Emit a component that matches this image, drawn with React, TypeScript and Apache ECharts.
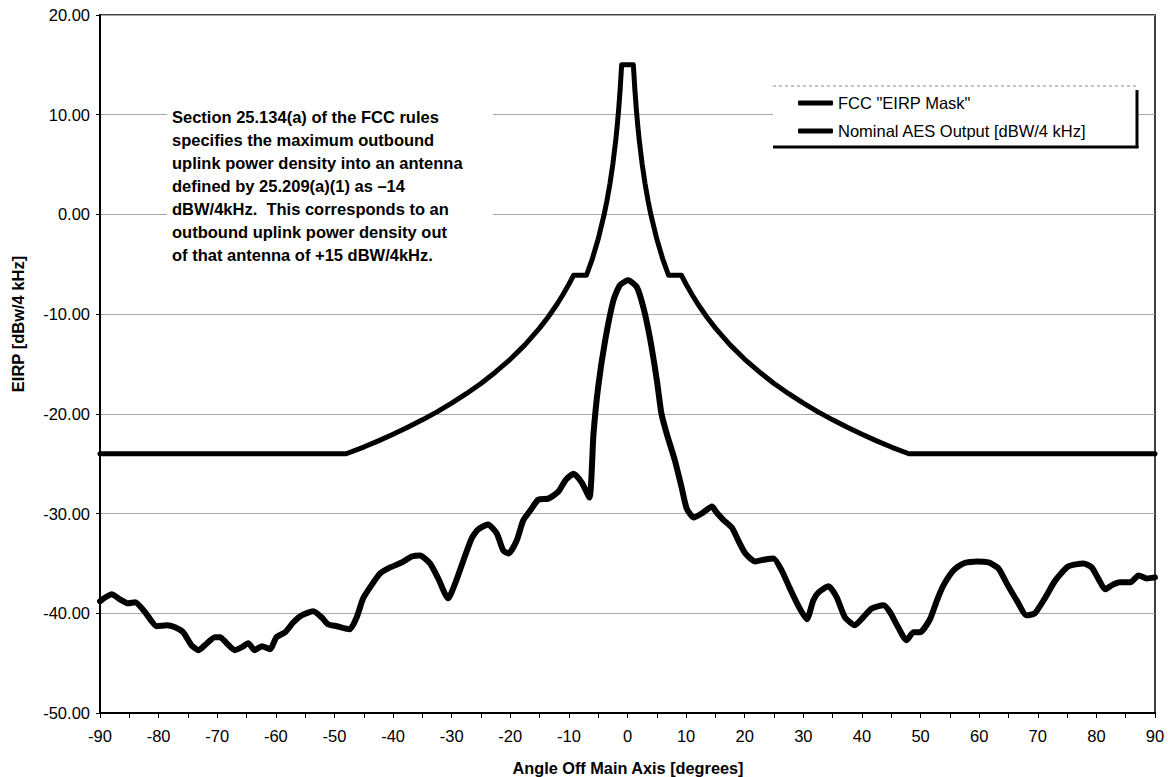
import React, { useEffect, useRef } from "react";
import * as echarts from "echarts";

const FONT = "'Liberation Sans', Arial, sans-serif";

// FCC "EIRP Mask"
const maskAngles = [
  -90, -48, -45, -42.5, -40, -37.5, -35, -32.5, -30, -27.5, -25, -22.5, -20, -17.5, -15, -13.5, -12, -11, -10, -9.2,
  -7, -6, -5, -4, -3.5, -3, -2.5, -2, -1.75, -1.5, -1.25, -1,
  1, 1.25, 1.5, 1.75, 2, 2.5, 3, 3.5, 4, 5, 6, 7,
  9.2, 10, 11, 12, 13.5, 15, 17.5, 20, 22.5, 25, 27.5, 30, 32.5, 35, 37.5, 40, 42.5, 45, 48, 90,
];
const maskValues = [
  -24.0, -24.0, -23.33, -22.71, -22.05, -21.35, -20.6, -19.8, -18.93, -17.98, -16.95, -15.8, -14.53, -13.08, -11.4, -10.26, -8.98, -8.03, -7.0, -6.1,
  -6.1, -4.45, -2.47, -0.05, 1.4, 3.07, 5.05, 7.47, 8.92, 10.6, 12.58, 15.0,
  15.0, 12.58, 10.6, 8.92, 7.47, 5.05, 3.07, 1.4, -0.05, -2.47, -4.45, -6.1,
  -6.1, -7.0, -8.03, -8.98, -10.26, -11.4, -13.08, -14.53, -15.8, -16.95, -17.98, -18.93, -19.8, -20.6, -21.35, -22.05, -22.71, -23.33, -24.0, -24.0,
];

// Nominal AES Output [dBW/4 kHz]
const aesAngles = [
  -90, -88.0, -86.6, -85.2, -84.0, -82.3, -80.3, -78.6, -77.2, -75.8, -74.4, -73.2, -72.1, -70.4, -69.5, -68.4, -67.0, -65.8,
  -64.7, -63.6, -62.4, -61.0, -59.9, -58.4, -57.0, -55.6, -53.6, -52.2, -51.1, -49.6, -47.4, -46.2, -45.1, -43.7, -42.2,
  -40.5, -38.5, -36.8, -35.4, -33.7, -32.3, -30.6, -29.4, -28.0, -26.6, -25.5, -23.8, -22.3, -21.2, -20.3, -18.9, -17.8,
  -16.6, -15.2, -13.5, -11.8, -10.5, -9.2, -7.8, -6.5, -5.8, -5.0, -3.8, -2.4, -1.3, 0.1, 1.6, 2.7, 3.8, 5.0, 5.8, 6.7,
  8.1, 9.2, 10.1, 11.3, 12.9, 14.4, 15.2, 16.3, 17.8, 18.9, 20.1, 21.8, 23.5, 24.9, 26.3, 27.7, 29.1, 30.6, 31.7, 32.6,
  34.3, 35.7, 37.1, 38.8, 40.2, 41.7, 43.7, 44.8, 45.9, 47.6, 48.8, 49.9, 51.6, 52.8, 53.9, 55.6, 57.3, 59.6, 61.6, 63.3,
  64.7, 66.4, 68.1, 69.5, 71.2, 73.0, 75.2, 77.8, 79.2, 80.3, 81.5, 82.6, 84.0, 85.8, 87.2, 88.6, 90,
];
const aesValues = [
  -38.8, -38.1, -38.6, -39.0, -38.9, -39.9, -41.3, -41.2, -41.4, -41.9, -43.2, -43.7, -43.2, -42.4, -42.4, -43.0, -43.7, -43.4,
  -43.0, -43.7, -43.3, -43.6, -42.4, -41.9, -40.9, -40.2, -39.8, -40.4, -41.1, -41.3, -41.6, -40.4, -38.5, -37.2, -36.0,
  -35.4, -34.9, -34.3, -34.2, -35.0, -36.5, -38.5, -37.0, -34.7, -32.5, -31.6, -31.1, -32.0, -33.7, -34.0, -32.7, -30.7,
  -29.7, -28.6, -28.5, -27.8, -26.6, -26.0, -26.9, -28.4, -22.0, -17.3, -12.6, -8.6, -7.1, -6.6, -7.3, -9.3, -12.3, -16.6, -20.0, -22.0,
  -24.7, -27.3, -29.5, -30.4, -29.9, -29.3, -29.9, -30.6, -31.4, -32.7, -34.0, -34.8, -34.6, -34.5, -35.7, -37.5, -39.2, -40.6, -38.7, -37.9,
  -37.3, -38.4, -40.4, -41.2, -40.4, -39.5, -39.2, -39.9, -41.1, -42.7, -41.9, -41.9, -40.6, -38.7, -37.2, -35.7, -35.0, -34.8, -34.9, -35.5,
  -37.0, -38.7, -40.2, -40.0, -38.5, -36.7, -35.3, -35.0, -35.4, -36.5, -37.6, -37.2, -36.9, -36.9, -36.2, -36.5, -36.4,
];

const seriesNames = ['FCC "EIRP Mask"', "Nominal AES Output [dBW/4 kHz]"];
const xTitle = "Angle Off Main Axis [degrees]";
const yTitle = "EIRP [dBw/4 kHz]";
const noteLines = [
  "Section 25.134(a) of the FCC rules",
  "specifies the maximum outbound",
  "uplink power density into an antenna",
  "defined by 25.209(a)(1) as \u201314",
  "dBW/4kHz.  This corresponds to an",
  "outbound uplink power density out",
  "of that antenna of +15 dBW/4kHz.",
];

export default function App() {
  const ref = useRef<HTMLDivElement>(null);
  useEffect(() => {
    if (!ref.current) return;
    const chart = echarts.init(ref.current, null, { renderer: "svg" });
    const maskData = maskAngles.map((a, i) => [a, maskValues[i]]);
    const aesData = aesAngles.map((a, i) => [a, aesValues[i]]);
    chart.setOption({
      animation: false,
      backgroundColor: "#fff",
      grid: {
        left: 100,
        right: 13,
        top: 15,
        bottom: 64,
        show: true,
        borderColor: "#000",
        borderWidth: 1.5,
        backgroundColor: "transparent",
      },
      xAxis: {
        type: "value",
        min: -90,
        max: 90,
        interval: 5,
        axisLine: { show: true, onZero: false, lineStyle: { color: "#000", width: 2 } },
        axisTick: { show: true, length: 5, lineStyle: { color: "#000", width: 1 } },
        splitLine: { show: false },
        axisLabel: {
          color: "#000",
          fontFamily: FONT,
          fontSize: 16.5,
          margin: 14,
          formatter: (v: number) => (v % 10 === 0 ? String(v) : ""),
        },
      },
      yAxis: {
        type: "value",
        min: -50,
        max: 20,
        interval: 10,
        axisLine: { show: true, onZero: false, lineStyle: { color: "#000", width: 2 } },
        axisTick: { show: true, length: 4, lineStyle: { color: "#000", width: 1 } },
        splitLine: { show: true, lineStyle: { color: "#a8a8a8", width: 1 } },
        axisLabel: {
          color: "#000",
          fontFamily: FONT,
          fontSize: 16.5,
          margin: 10,
          formatter: (v: number) => v.toFixed(2),
        },
      },
      legend: {
        orient: "vertical",
        left: 798,
        top: 93,
        z: 20,
        padding: 0,
        itemGap: 8,
        itemWidth: 35,
        itemHeight: 5,
        icon: "roundRect",
        data: seriesNames,
        textStyle: { color: "#000", fontFamily: FONT, fontSize: 16.5, lineHeight: 20 },
      },
      series: [
        {
          name: seriesNames[0],
          type: "line",
          data: maskData,
          showSymbol: false,
          symbol: "none",
          color: "#000",
          lineStyle: { color: "#000", width: 5, join: "round", cap: "round" },
          z: 3,
        },
        {
          name: seriesNames[1],
          type: "line",
          data: aesData,
          showSymbol: false,
          symbol: "none",
          smooth: 0.2,
          color: "#000",
          lineStyle: { color: "#000", width: 6, join: "round", cap: "round" },
          z: 3,
        },
      ],
      graphic: [
        { type: "rect", z: 10, shape: { x: 167, y: 104, width: 326, height: 160 }, style: { fill: "#fff" } },
        {
          type: "text",
          z: 11,
          x: 172,
          y: 105.5,
          style: {
            text: noteLines.join("\n"),
            fill: "#000",
            font: `bold 16.5px ${FONT}`,
            lineHeight: 23,
            textAlign: "left",
            textVerticalAlign: "top",
          },
        },
        { type: "rect", z: 10, shape: { x: 773, y: 86, width: 364, height: 61 }, style: { fill: "#fff" } },
        { type: "line", z: 11, shape: { x1: 773, y1: 86, x2: 1137, y2: 86 }, style: { stroke: "#888", lineWidth: 1, lineDash: [3, 3] } },
        { type: "line", z: 11, shape: { x1: 1137, y1: 90, x2: 1137, y2: 148 }, style: { stroke: "#000", lineWidth: 3 } },
        { type: "line", z: 11, shape: { x1: 773, y1: 147, x2: 1138.5, y2: 147 }, style: { stroke: "#000", lineWidth: 3 } },
        {
          type: "text",
          z: 11,
          x: 628,
          y: 768,
          style: {
            text: xTitle,
            fill: "#000",
            font: `bold 16.3px ${FONT}`,
            textAlign: "center",
            textVerticalAlign: "middle",
          },
        },
        {
          type: "text",
          z: 11,
          x: 18,
          y: 324,
          rotation: Math.PI / 2,
          style: {
            text: yTitle,
            fill: "#000",
            font: `bold 16.5px ${FONT}`,
            textAlign: "center",
            textVerticalAlign: "middle",
          },
        },
      ],
    });
    return () => chart.dispose();
  }, []);
  return (
    <div
      ref={ref}
      style={{ position: "fixed", left: 0, top: 0, width: 1168, height: 777, background: "#fff" }}
    />
  );
}
